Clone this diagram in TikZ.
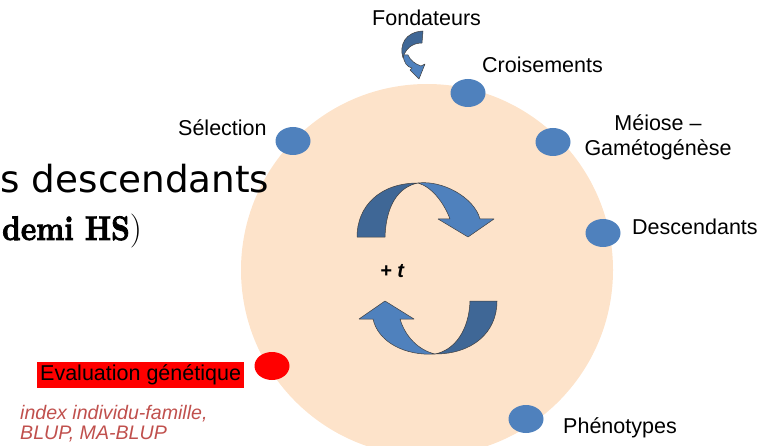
\documentclass[tikz,border=0pt]{standalone}
\usepackage{fontspec}
\setsansfont{Liberation Sans}
\newfontfamily\dejavu{DejaVu Sans}
\newfontfamily\heavyserif{lmroman10-bold.otf}[FakeBold=2.5]
\usepackage{graphicx}
\usetikzlibrary{shapes.geometric}

\definecolor{peach}{HTML}{FDE3CA}
\definecolor{dotblue}{HTML}{4F81BD}
\definecolor{ribdark}{HTML}{3F6796}
\definecolor{riblight}{HTML}{4F81BD}
\definecolor{notered}{HTML}{C0504D}

\begin{document}
\begin{tikzpicture}[x=1pt,y=-1pt,
  lbl/.style={inner sep=0pt, font=\sffamily\fontsize{21.5}{25}\selectfont},
  note/.style={inner sep=0pt, text=notered, font=\sffamily\itshape\fontsize{19.6}{23}\selectfont},
  stage/.style={ellipse, fill=dotblue, minimum width=35pt, minimum height=28pt, inner sep=0pt},
  evalstage/.style={stage, fill=red},
  ribbondark/.style={fill=ribdark, draw=black!75, line width=0.5pt, line join=round},
  ribbonlight/.style={fill=riblight, draw=black!75, line width=0.5pt, line join=round}]

\useasboundingbox (0,0) rectangle (762,446);
\clip (0,0) rectangle (762,446);

% the breeding cycle disc
\node[circle, fill=peach, minimum size=372pt, inner sep=0pt] (cycle) at (427,270) {};

% heading text running in from the left
\node[anchor=base west, inner sep=0pt, font=\dejavu\fontsize{37.3}{44}\selectfont] (headA) at (0.5,193) {s descendants};
\node[anchor=base west, inner sep=0pt, font=\rmfamily\fontsize{34}{40}\selectfont] (headB) at (2,240)
  {\scalebox{0.86}[1]{\heavyserif demi HS})};

% stages around the cycle
\node[stage] (sCrois) at (468,93) {};
\node[stage] (sSel) at (293,141) {};
\node[stage] (sMei) at (553,142) {};
\node[stage] (sDesc) at (603,233) {};
\node[evalstage] (sEval) at (272,366) {};
\node[stage] (sPheno) at (526,419) {};

% stage labels
\node[lbl, anchor=base west] (tFond) at (372,26) {Fondateurs};
\node[lbl, anchor=base west] (tCrois) at (482,73) {Croisements};
\node[lbl, anchor=base west] (tSel) at (178,136) {Sélection};
\node[lbl, anchor=base] (tMeiA) at (658,130.5) {Méiose –};
\node[lbl, anchor=base] (tMeiB) at (658,155.5) {Gamétogénèse};
\node[lbl, anchor=base west] (tDesc) at (632,235) {Descendants};
\node[lbl, anchor=base west] (tPheno) at (563,433) {Phénotypes};
\node[lbl, anchor=base west, fill=red, inner xsep=3pt, inner ysep=3pt,
      text height=15.5pt, text depth=4.5pt] (tEval) at (37,380) {Evaluation génétique};
\node[note, anchor=base west] (tIdx) at (20,419) {index individu-famille,};
\node[note, anchor=base west] (tBlup) at (20,439.5) {BLUP, MA-BLUP};

% time step in the middle
\node[anchor=base west, inner sep=0pt, font=\sffamily\bfseries\itshape\fontsize{20}{24}\selectfont] (tStep) at (380,277) {+ t};

% small arrow under "Fondateurs"
\path[ribbonlight] (403,55) .. controls (404,63) and (407,67) .. (412,68)
  -- (410,70) -- (419,79) -- (425,64) -- (421,66)
  .. controls (415,64) and (410,60) .. (408,55) -- cycle;
\path[ribbondark] (423,31) .. controls (405,32) and (399,45) .. (403,58)
  .. controls (405,50) and (411,43) .. (422,43) -- cycle;

% upper circular arrow
\path[ribbonlight] (418,183) .. controls (442,180) and (474,197) .. (480,219)
  -- (494,219) -- (468,237) -- (438,219) -- (450,219)
  .. controls (444,203) and (432,187) .. (418,183) -- cycle;
\path[ribbondark] (357,237) .. controls (357,206) and (380,183) .. (418,183)
  .. controls (398,187) and (386,206) .. (385,237) -- cycle;

% lower circular arrow
\path[ribbonlight] (435,354) .. controls (405,356) and (378,342) .. (373,319)
  -- (359,319) -- (385,301) -- (414,319) -- (400,319)
  .. controls (405,336) and (418,350) .. (435,354) -- cycle;
\path[ribbondark] (497,301) .. controls (497,333) and (472,354) .. (435,354)
  .. controls (455,350) and (469,330) .. (470,301) -- cycle;

\end{tikzpicture}
\end{document}
